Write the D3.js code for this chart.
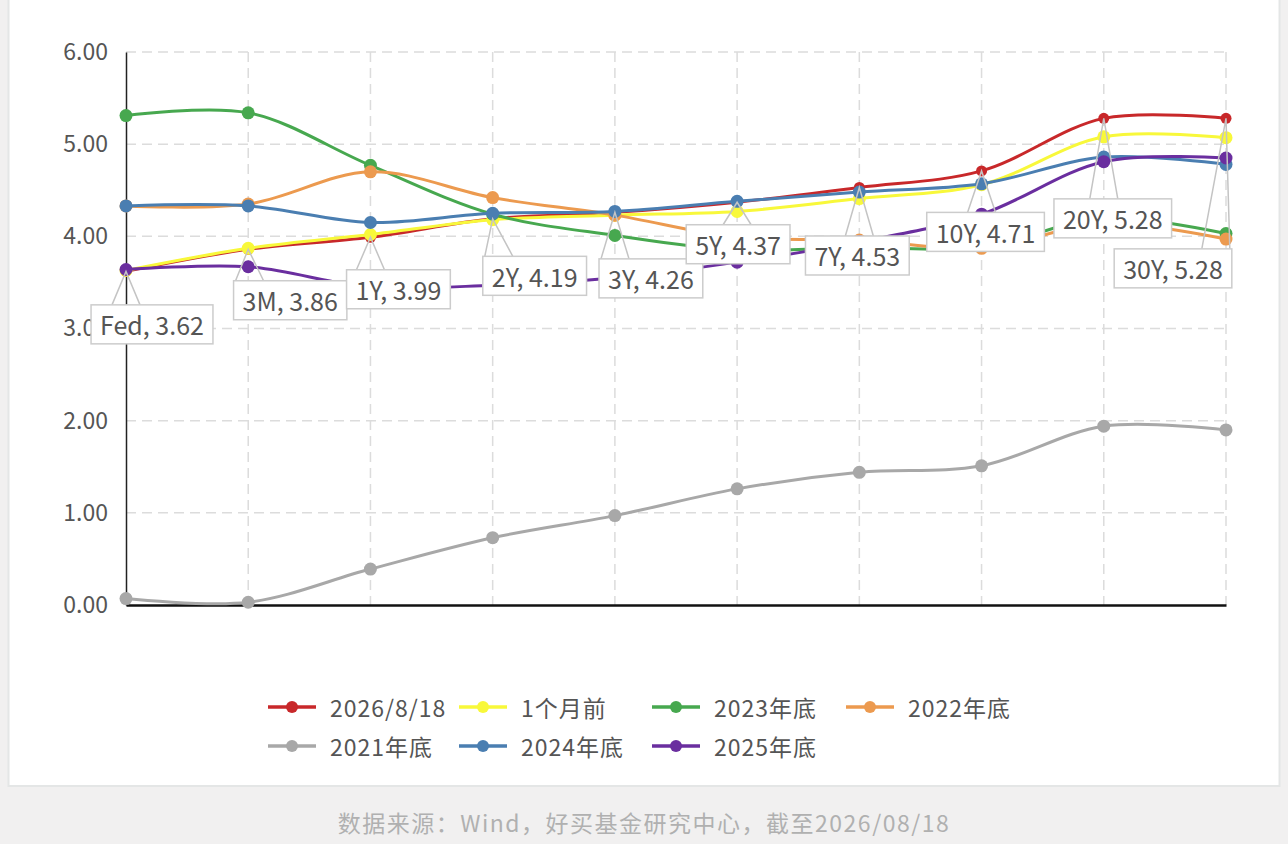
<!DOCTYPE html>
<html><head><meta charset="utf-8">
<script src="https://cdn.jsdelivr.net/npm/d3@7/dist/d3.min.js"></script>
<style>
html,body{margin:0;padding:0;background:#f1f0f0;}
svg{display:block;font-family:"Noto Sans CJK SC","Noto Sans",sans-serif;}
</style></head>
<body>
<svg id="chart" width="1288" height="844"></svg>
<script>
// ---------- data ----------
const categories = ["Fed","3M","1Y","2Y","3Y","5Y","7Y","10Y","20Y","30Y"];
const seriesNames = ["2026/8/18","1个月前","2023年底","2022年底","2021年底","2024年底","2025年底"];
const s20260818 = [3.62,3.86,3.99,4.19,4.26,4.37,4.53,4.71,5.28,5.28];
const s1MonthAgo = [3.63,3.87,4.02,4.18,4.23,4.27,4.41,4.56,5.08,5.07];
const s2023 = [5.31,5.34,4.77,4.24,4.01,3.85,3.88,3.88,4.20,4.03];
const s2022 = [4.33,4.35,4.70,4.42,4.23,3.99,3.96,3.87,4.14,3.97];
const s2021 = [0.07,0.03,0.39,0.73,0.97,1.26,1.44,1.51,1.94,1.90];
const s2024 = [4.33,4.33,4.15,4.25,4.27,4.38,4.48,4.57,4.86,4.78];
const s2025 = [3.64,3.67,3.45,3.47,3.55,3.72,3.94,4.24,4.81,4.85];
const yTicks = [0,1,2,3,4,5,6];
const sourceText = "数据来源：Wind，好买基金研究中心，截至2026/08/18";

// ---------- styles / layout ----------
const colors = ["#c8282a","#f8f83a","#47a84f","#ec9a4f","#a8a8a8","#4a7eb1","#6a2e9f"];
const seriesValues = [s20260818,s1MonthAgo,s2023,s2022,s2021,s2024,s2025];
// label box offsets (box centre relative to point), in px
const labelOffsets = [[26,53],[42,51],[28,52],[42,57],[36,66],[1,42],[-2,68],[4,61],[9,100],[-53,150]];
const legendCols = [268,459,652,846];
const legendRows = [707,746];

const svg = d3.select("#chart");
svg.append("rect").attr("x",8.5).attr("y",-1).attr("width",1271).attr("height",787)
  .attr("fill","#fff").attr("stroke","#e4e6e6").attr("stroke-width",2);

const x = d3.scalePoint().domain(categories).range([126,1226]);
const y = d3.scaleLinear().domain([0,6]).range([605,52]);

// grid
const g = svg.append("g");
g.selectAll("line.hg").data(yTicks.filter(d=>d>0)).join("line")
  .attr("x1",126).attr("x2",1226).attr("y1",d=>y(d)).attr("y2",d=>y(d))
  .attr("stroke","#dcdcdc").attr("stroke-width",1.5).attr("stroke-dasharray","10,6");
g.selectAll("line.vg").data(categories.slice(1)).join("line")
  .attr("x1",d=>x(d)).attr("x2",d=>x(d)).attr("y1",y(6)).attr("y2",y(0))
  .attr("stroke","#dcdcdc").attr("stroke-width",1.5).attr("stroke-dasharray","10,6");

// y axis
const yAxis = d3.axisLeft(y).tickValues(yTicks).tickFormat(d3.format(".2f")).tickSize(0).tickPadding(18);
const ya = svg.append("g").attr("transform","translate(126,0)").call(yAxis);
ya.select(".domain").attr("stroke","#222").attr("stroke-width",1.5);
ya.selectAll("text").attr("font-size",23).attr("fill","#555").attr("font-family",'"Noto Sans CJK SC","Noto Sans",sans-serif');

// x axis (no labels)
const xAxis = d3.axisBottom(x).tickSize(0).tickFormat("");
const xa = svg.append("g").attr("transform",`translate(0,${y(0)})`).call(xAxis);
xa.select(".domain").attr("stroke","#111").attr("stroke-width",2.5);

// lines
const line = d3.line().x((d,i)=>x(categories[i])).y(d=>y(d)).curve(d3.curveCatmullRom.alpha(0.5));
seriesValues.forEach((vals,si)=>{
  const sg = svg.append("g");
  sg.append("path").datum(vals).attr("d",line).attr("fill","none")
    .attr("stroke",colors[si]).attr("stroke-width",3);
  sg.selectAll("circle").data(vals).join("circle")
    .attr("cx",(d,i)=>x(categories[i])).attr("cy",d=>y(d))
    .attr("r",si===0?5.5:6.5).attr("fill",colors[si]);
});

// callout labels for the current curve
const lg = svg.append("g");
s20260818.forEach((v,i)=>{
  const px = x(categories[i]), py = y(v);
  const [dx,dy] = labelOffsets[i];
  const cx = px+dx, cy = py+dy;
  const t = lg.append("text").attr("x",cx).attr("y",cy).attr("text-anchor","middle")
    .attr("dominant-baseline","central").attr("font-size",25).attr("fill","#555")
    .text(categories[i]+", "+v.toFixed(2));
  const bb = t.node().getBBox();
  const w = bb.width+18, h = 39;
  const left = cx-w/2, top = cy-h/2;
  let b1 = Math.max(left+2, Math.min(px-14, left+w-30));
  let b2 = b1+28;
  lg.insert("path", function(){return t.node();})
    .attr("d",`M${b1},${top}L${px},${py}L${b2},${top}`)
    .attr("fill","none").attr("stroke","#c4c4c4").attr("stroke-width",1.5);
  lg.insert("rect", function(){return t.node();})
    .attr("x",left).attr("y",top).attr("width",w).attr("height",h)
    .attr("fill","#fff").attr("stroke","#cccccc").attr("stroke-width",1.5);
});

// legend
const leg = svg.append("g");
seriesNames.forEach((name,i)=>{
  const lx = legendCols[i%4], ly = legendRows[Math.floor(i/4)];
  leg.append("line").attr("x1",lx).attr("x2",lx+48).attr("y1",ly).attr("y2",ly)
    .attr("stroke",colors[i]).attr("stroke-width",3.5);
  leg.append("circle").attr("cx",lx+24).attr("cy",ly).attr("r",6).attr("fill",colors[i]);
  leg.append("text").attr("x",lx+62).attr("y",ly).attr("dominant-baseline","central")
    .attr("font-size",23).attr("letter-spacing",1).attr("fill","#555").text(name);
});

// source
svg.append("text").attr("x",644).attr("y",822).attr("text-anchor","middle")
  .attr("dominant-baseline","central").attr("font-size",23).attr("letter-spacing",1.5)
  .attr("fill","#b0b0b0").text(sourceText);
</script>
</body></html>
